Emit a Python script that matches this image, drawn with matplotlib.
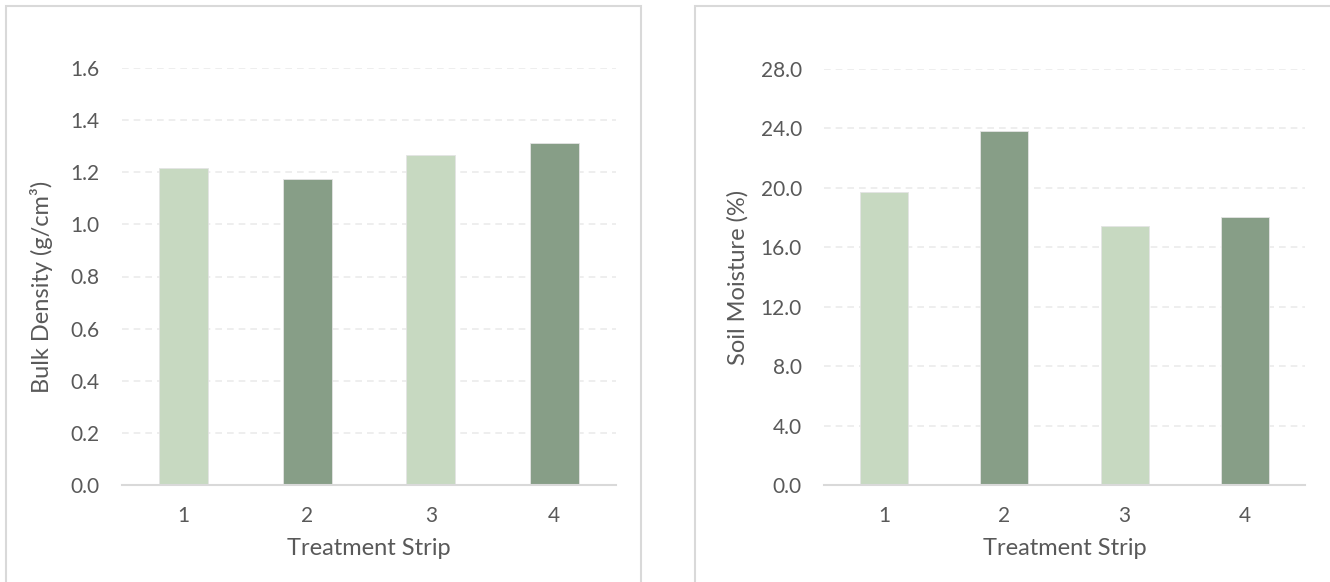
import matplotlib
matplotlib.use("Agg")
import matplotlib.pyplot as plt
from matplotlib.patches import Rectangle
import numpy as np

strips = ["1", "2", "3", "4"]
bulk_density = [1.218, 1.176, 1.268, 1.313]
soil_moisture = [19.71, 23.82, 17.42, 18.05]
bd_ticks = [0.0, 0.2, 0.4, 0.6, 0.8, 1.0, 1.2, 1.4, 1.6]
sm_ticks = [0.0, 4.0, 8.0, 12.0, 16.0, 20.0, 24.0, 28.0]

light = "#C7D9C1"
dark = "#879E87"
bar_colors = [light, dark, light, dark]
txt = "#595959"
font = ["Lato", "DejaVu Sans"]

W, H = 1330, 582
fig = plt.figure(figsize=(W / 100, H / 100), dpi=100)
fig.patch.set_facecolor("white")

# panel borders
for (x0, x1) in [(6, 641), (695, 1340)]:
    fig.add_artist(Rectangle((x0 / W, -0.01), (x1 - x0) / W, (H - 6) / H + 0.01,
                             transform=fig.transFigure, fill=False,
                             edgecolor="#D9D9D9", linewidth=1.5))


def make(ax_rect, values, ticks, ylabel, ylab_x, ylab_y):
    l, r, t, b = ax_rect
    ax = fig.add_axes([l / W, (H - b) / H, (r - l) / W, (b - t) / H])
    x = np.arange(len(strips))
    ax.bar(x, values, width=0.4, color=bar_colors, edgecolor="#E4E4E4",
           linewidth=0.6, zorder=3)
    ax.set_xlim(-0.5, len(strips) - 0.5)
    ax.set_ylim(ticks[0], ticks[-1])
    ax.set_yticks(ticks)
    ax.set_yticklabels([f"{v:.1f}" for v in ticks], fontfamily=font,
                       fontsize=15, color=txt)
    ax.set_xticks(x)
    ax.set_xticklabels(strips, fontfamily=font, fontsize=15, color=txt)
    ax.tick_params(axis="both", length=0)
    ax.tick_params(axis="y", pad=16)
    ax.tick_params(axis="x", pad=15)
    ax.grid(axis="y", linestyle=(0, (4, 3)), color="#EBEBEB", linewidth=1.2, zorder=0)
    for s in ["top", "right", "left"]:
        ax.spines[s].set_visible(False)
    ax.spines["bottom"].set_color("#D9D9D9")
    ax.spines["bottom"].set_linewidth(1.5)
    ax.spines["bottom"].set_zorder(4)
    ax.set_xlabel("Treatment Strip", fontfamily=font, fontsize=17, color=txt,
                  labelpad=9)
    ax.set_ylabel(ylabel, fontfamily=font, fontsize=17, color=txt)
    ax.yaxis.set_label_coords((ylab_x - l) / (r - l), ylab_y)
    return ax


make((122, 616, 68, 485), bulk_density, bd_ticks, "Bulk Density (g/cm³)", 53, 0.475)
make((824, 1305, 69, 485), soil_moisture, sm_ticks, "Soil Moisture (%)", 749, 0.5)

fig.savefig("out.png", dpi=100, facecolor="white")
